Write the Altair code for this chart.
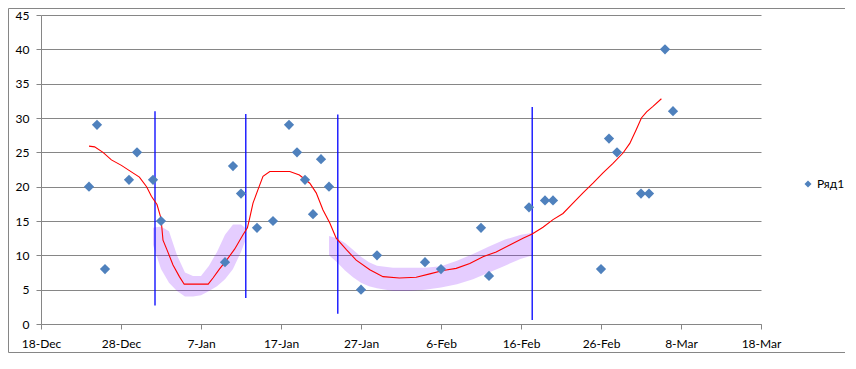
import altair as alt
import pandas as pd

BASE = pd.Timestamp("2013-12-18")

# ---- blue diamonds (Ряд1) ----
point_dates = ["2013-12-24", "2013-12-25", "2013-12-26", "2013-12-29", "2013-12-30",
               "2014-01-01", "2014-01-02", "2014-01-10", "2014-01-11", "2014-01-12",
               "2014-01-14", "2014-01-16", "2014-01-18", "2014-01-19", "2014-01-20",
               "2014-01-21", "2014-01-22", "2014-01-23", "2014-01-27", "2014-01-29",
               "2014-02-04", "2014-02-06", "2014-02-11", "2014-02-12", "2014-02-17",
               "2014-02-19", "2014-02-20", "2014-02-26", "2014-02-27", "2014-02-28",
               "2014-03-03", "2014-03-04", "2014-03-06", "2014-03-07"]
point_values = [20, 29, 8, 21, 25, 21, 15, 9, 23, 19, 14, 15, 29, 25, 21, 16, 24, 20,
                5, 10, 9, 8, 14, 7, 17, 18, 18, 8, 27, 25, 19, 19, 40, 31]
series_name = "Ряд1"

# ---- red smoothed curve (days after 18-Dec, value) ----
curve_days = [6.0, 6.7, 7.75, 8.8, 10.05, 11.1, 12.3, 13.2, 13.8, 14.5, 15.0, 15.25,
              15.75, 16.5, 17.3, 17.9, 20.9, 21.5, 22.3, 23.2, 24.2, 25.25, 25.8, 26.1,
              26.5, 27.1, 27.75, 28.6, 31.1, 32.3, 33.6, 34.4, 35.25, 36.1, 36.9, 38.2,
              39.4, 41.1, 42.75, 44.8, 46.9, 48.6, 50.25, 51.9, 53.6, 55.25, 56.9, 58.6,
              60.25, 61.4, 62.75, 64.0, 65.25, 66.5, 67.75, 69.0, 70.25, 71.5, 72.75,
              73.6, 74.4, 75.05, 75.7, 76.5, 77.55]
curve_values = [25.9, 25.8, 25.0, 23.9, 23.1, 22.3, 21.4, 20.0, 18.6, 17.4, 15.4, 12.2,
                10.8, 8.6, 6.9, 5.8, 5.8, 6.7, 8.0, 9.3, 10.9, 13.0, 14.0, 15.5,
                17.6, 19.5, 21.5, 22.2, 22.2, 21.7, 20.5, 19.1, 16.6, 14.7, 12.5, 10.8,
                9.3, 7.9, 6.9, 6.7, 6.8, 7.3, 7.8, 8.1, 8.8, 9.8, 10.5, 11.5,
                12.5, 13.1, 14.1, 15.2, 16.1, 17.6, 19.1, 20.5, 22.0, 23.4, 24.9,
                26.3, 28.3, 30.0, 30.9, 31.7, 32.8]

# ---- purple scatter clouds (extent) ----
cloud1_days = [14.0, 15.0, 16.0, 17.0, 18.0, 19.0, 20.0, 21.0, 22.0, 23.0, 24.0, 25.0, 25.5]
cloud1_low = [11.5, 8.0, 6.0, 4.8, 4.0, 4.0, 4.2, 4.8, 5.5, 6.5, 8.0, 10.5, 12.0]
cloud1_high = [14.0, 14.2, 13.5, 10.0, 7.5, 7.0, 7.0, 8.5, 10.5, 13.0, 14.5, 14.5, 14.0]
cloud2_days = [36.0, 37.0, 38.0, 39.0, 40.0, 41.0, 42.0, 44.0, 46.0, 48.0, 50.0, 52.0,
               54.0, 56.0, 58.0, 60.0, 61.5]
cloud2_low = [10.0, 9.0, 7.8, 6.8, 6.0, 5.5, 5.2, 4.8, 4.8, 5.0, 5.3, 5.8, 6.5, 7.5,
              8.5, 9.5, 10.0]
cloud2_high = [12.8, 12.5, 11.8, 10.8, 9.8, 9.0, 8.5, 8.2, 8.2, 8.2, 8.4, 9.2, 10.2,
               11.3, 12.3, 13.0, 13.3]

# ---- blue vertical markers ----
vline_days = [14.25, 25.6, 37.1, 61.4]
vline_low = [2.7, 3.8, 1.5, 0.6]
vline_high = [31.0, 30.6, 30.5, 31.6]

# ---- axis ----
tick_dates = ["2013-12-18", "2013-12-28", "2014-01-07", "2014-01-17", "2014-01-27",
              "2014-02-06", "2014-02-16", "2014-02-26", "2014-03-08", "2014-03-18"]
y_ticks = [0, 5, 10, 15, 20, 25, 30, 35, 40, 45]


def to_dt(days):
    return [BASE + pd.to_timedelta(d, unit="D") for d in days]


def dt_obj(s):
    t = pd.Timestamp(s)
    return alt.DateTime(year=t.year, month=t.month, date=t.day)


pts = pd.DataFrame({"date": pd.to_datetime(point_dates), "value": point_values,
                    "series": series_name})
curve = pd.DataFrame({"date": to_dt(curve_days), "value": curve_values})
cloud = pd.concat([
    pd.DataFrame({"date": to_dt(cloud1_days), "low": cloud1_low, "high": cloud1_high, "seg": "a"}),
    pd.DataFrame({"date": to_dt(cloud2_days), "low": cloud2_low, "high": cloud2_high, "seg": "b"}),
])
vlines = pd.DataFrame({"date": to_dt(vline_days), "low": vline_low, "high": vline_high})

FONT = "Lato, 'Open Sans', 'DejaVu Sans', sans-serif"
GRID = "#868686"

xscale = alt.Scale(domain=[dt_obj(tick_dates[0]), dt_obj(tick_dates[-1])], nice=False)
yscale = alt.Scale(domain=[0, 45], nice=False, zero=True)

xaxis = alt.Axis(values=[dt_obj(s) for s in tick_dates], format="%-d-%b", grid=False,
                 title=None, labelFont=FONT, labelFontSize=12, labelColor="#000000",
                 labelPadding=9, tickSize=5, tickColor=GRID, domainColor=GRID,
                 labelFlush=False, labelOverlap=False)
yaxis = alt.Axis(values=y_ticks, grid=True, gridColor=GRID, gridWidth=1, title=None,
                 labelFont=FONT, labelFontSize=12, labelColor="#000000", labelPadding=7,
                 tickSize=5, tickColor=GRID, domainColor=GRID)

X = alt.X("date:T", scale=xscale, axis=xaxis)

border = alt.Chart(pd.DataFrame({"a": [0]})).mark_rect(
    fill=None, stroke=GRID, strokeWidth=1
).encode(x=alt.value(-32.5), x2=alt.value(805.5), y=alt.value(-6.5), y2=alt.value(337.5))

clouds = alt.Chart(cloud).mark_area(color="#8a1cff", opacity=0.22).encode(
    x=X,
    y=alt.Y("low:Q", scale=yscale, axis=yaxis),
    y2="high:Q",
    detail="seg:N",
)

rules = alt.Chart(vlines).mark_rule(color="#0000ff", strokeWidth=1.3).encode(
    x=X, y=alt.Y("low:Q", scale=yscale, axis=yaxis), y2="high:Q"
)

redline = alt.Chart(curve).mark_line(color="#ff0000", strokeWidth=1.1).encode(
    x=X, y=alt.Y("value:Q", scale=yscale, axis=yaxis)
)

diamonds = alt.Chart(pts).mark_point(shape="diamond", filled=True, size=105, opacity=1).encode(
    x=X,
    y=alt.Y("value:Q", scale=yscale, axis=yaxis),
    color=alt.Color("series:N", scale=alt.Scale(range=["#4f81bd"]),
                    legend=alt.Legend(title=None, orient="none", legendX=761, legendY=163,
                                      symbolType="diamond", symbolSize=49,
                                      symbolStrokeWidth=0, padding=0,
                                      labelFont=FONT, labelFontSize=12,
                                      labelColor="#000000", labelOffset=3)),
)

chart = alt.layer(border, clouds, rules, redline, diamonds).properties(
    width=720, height=309,
    autosize=alt.AutoSizeParams(type="none"),
    padding={"left": 33, "top": 7, "right": 84, "bottom": 30},
    background="white",
).configure_view(strokeWidth=0)

chart.save("out.html", embed_options={"renderer": "svg", "actions": False})
